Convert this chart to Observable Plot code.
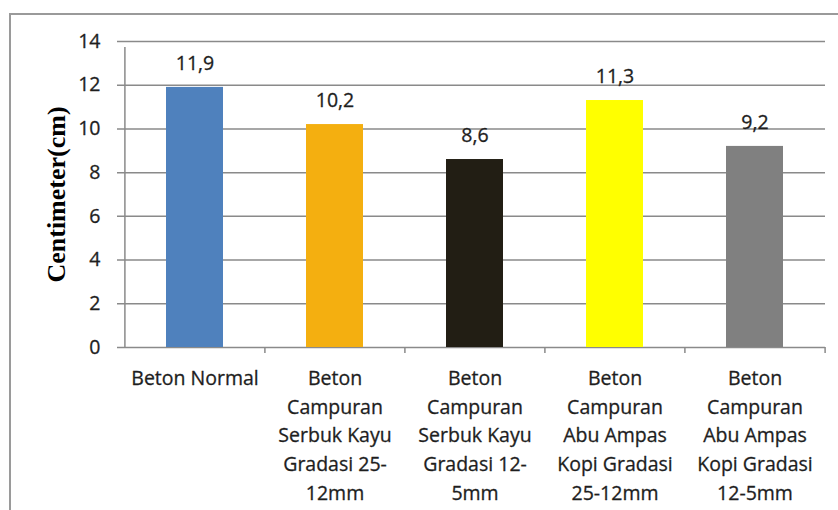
<!DOCTYPE html>
<html>
<head>
<meta charset="utf-8">
<script src="https://cdn.jsdelivr.net/npm/d3@7"></script>
<script src="https://cdn.jsdelivr.net/npm/@observablehq/plot@0.6"></script>
<style>
  html, body { margin: 0; padding: 0; background: #fff; }
  #wrap { position: relative; width: 838px; height: 510px; overflow: hidden; }
  #border { position: absolute; left: 9px; top: 13px; width: 860px; height: 540px; border: 2px solid #9a9a9a; box-sizing: border-box; }
  #chart { position: absolute; left: 0; top: 0; }
</style>
</head>
<body>
<div id="wrap">
  <div id="border"></div>
  <div id="chart"></div>
</div>
<script>
const categories = [
  "Beton Normal",
  "Beton\nCampuran\nSerbuk Kayu\nGradasi 25-\n12mm",
  "Beton\nCampuran\nSerbuk Kayu\nGradasi 12-\n5mm",
  "Beton\nCampuran\nAbu Ampas\nKopi Gradasi\n25-12mm",
  "Beton\nCampuran\nAbu Ampas\nKopi Gradasi\n12-5mm"
];
const values = [11.9, 10.2, 8.6, 11.3, 9.2];
const valueLabels = ["11,9", "10,2", "8,6", "11,3", "9,2"];
const barColors = ["#4F81BD", "#F4AF10", "#221E14", "#FFFF00", "#808080"];
const yTicks = [0, 2, 4, 6, 8, 10, 12, 14];
const yTitle = "Centimeter(cm)";

const data = categories.map((c, i) => ({category: c, value: values[i], label: valueLabels[i]}));

const W = 838, H = 510, mL = 124, mR = 13, mT = 41, mB = 163;
const step = (W - mL - mR) / categories.length;
const gridColor = "#8a8a8a";
const textColor = "#1e1e1e";
const axisText = {fontSize: 19.5, fill: textColor, textStroke: textColor, textStrokeWidth: 0.3};

const chart = Plot.plot({
  width: W,
  height: H,
  marginLeft: mL,
  marginRight: mR,
  marginTop: mT,
  marginBottom: mB,
  style: {fontFamily: "'Open Sans', sans-serif", fontSize: "19.5px", background: "transparent", overflow: "visible"},
  x: {domain: categories, paddingInner: 0.595, paddingOuter: 0.2975, label: null},
  y: {domain: [0, 14], label: null},
  color: {domain: categories, range: barColors},
  marks: [
    Plot.ruleY(yTicks, {y: d => d, stroke: gridColor, strokeWidth: 1.5, insetLeft: -7}),
    Plot.ruleX(categories.slice(0, 1), {x: d => d, dx: -step / 2, y1: 0, y2: 14, insetBottom: -6, stroke: gridColor, strokeWidth: 1.5}),
    Plot.ruleX(categories.slice(1), {x: d => d, dx: -step / 2, y1: 0, y2: 0, insetBottom: -6, stroke: gridColor, strokeWidth: 1.5}),
    Plot.ruleX(categories.slice(-1), {x: d => d, dx: step / 2, y1: 0, y2: 0, insetBottom: -6, stroke: gridColor, strokeWidth: 1.5}),
    Plot.barY(data, {x: "category", y: "value", fill: "category"}),
    Plot.text(data, {x: "category", y: "value", text: "label", dy: -24, fontSize: 19.5, fill: textColor, stroke: textColor, strokeWidth: 0.3}),
    Plot.axisY(yTicks, {tickSize: 0, tickPadding: 24, ...axisText, label: null}),
    Plot.axisX({tickSize: 0, tickPadding: 17, lineHeight: 1.47, ...axisText, label: null, lineWidth: 100}),
    Plot.text([yTitle], {frameAnchor: "left", text: d => d, rotate: -90, dx: -68, textAnchor: "middle", fontFamily: "'Liberation Serif', serif", fontWeight: "bold", fontSize: 26, fill: "#000"})
  ]
});
document.getElementById("chart").appendChild(chart);
</script>
</body>
</html>
